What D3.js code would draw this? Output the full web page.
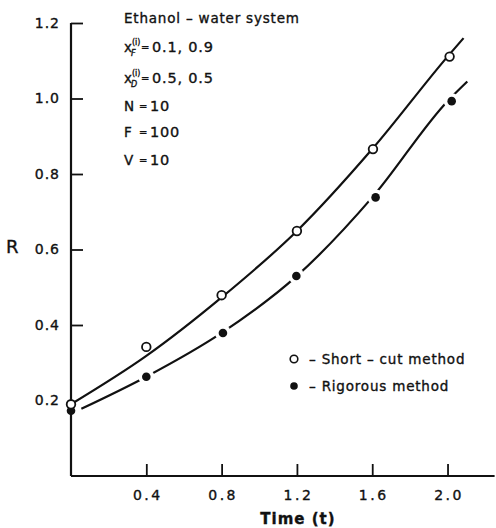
<!DOCTYPE html>
<html>
<head>
<meta charset="utf-8">
<script src="https://cdn.jsdelivr.net/npm/d3@7"></script>
<style>
  body { margin: 0; background: #fff; }
  text { font-family: "DejaVu Sans", Arial, sans-serif; fill: #111; stroke: #111; stroke-width: 0.35; }
</style>
</head>
<body>
<script>
  // points
  var shortCutT = [0, 0.4, 0.8, 1.2, 1.604, 2.011];
  var shortCutR = [0.19, 0.342, 0.479, 0.649, 0.866, 1.111];
  var rigorousT = [0, 0.4, 0.807, 1.197, 1.618, 2.022];
  var rigorousR = [0.173, 0.263, 0.379, 0.530, 0.738, 0.993];

  // fitted curves drawn through the points
  var shortCutCurveT = [0, 0.4, 0.8, 1.2, 1.6, 2.0, 2.085];
  var shortCutCurveR = [0.19, 0.318, 0.473, 0.649, 0.866, 1.111, 1.16];
  var rigorousCurveT = [0.055, 0.4, 0.8, 1.2, 1.6, 2.0, 2.105];
  var rigorousCurveR = [0.178, 0.263, 0.379, 0.530, 0.738, 0.993, 1.045];

  var xTicks = [0.4, 0.8, 1.2, 1.6, 2.0];
  var yTicks = [0.2, 0.4, 0.6, 0.8, 1.0, 1.2];

  var width = 496, height = 528;

  var svg = d3.select('body').append('svg')
    .attr('width', width)
    .attr('height', height);

  var x = d3.scaleLinear().domain([0, 2.25]).range([71, 494.6]);
  var y = d3.scaleLinear().domain([0, 1.2]).range([476, 23]);

  var line = d3.line()
    .x(function(d) { return x(d[0]); })
    .y(function(d) { return y(d[1]); })
    .curve(d3.curveMonotoneX);

  var curves = [
    d3.zip(shortCutCurveT, shortCutCurveR),
    d3.zip(rigorousCurveT, rigorousCurveR)
  ];

  svg.selectAll('path.curve')
    .data(curves)
    .enter()
    .append('path')
      .attr('class', 'curve')
      .attr('d', line)
      .attr('fill', 'none')
      .attr('stroke', '#111')
      .attr('stroke-width', 2.2);

  var rigorous = d3.zip(rigorousT, rigorousR);
  var shortCut = d3.zip(shortCutT, shortCutR);

  // white halos break the curve around the solid dots
  svg.selectAll('circle.halo')
    .data(rigorous)
    .enter()
    .append('circle')
      .attr('class', 'halo')
      .attr('cx', function(d) { return x(d[0]); })
      .attr('cy', function(d) { return y(d[1]); })
      .attr('r', 8)
      .attr('fill', '#fff');

  // axes
  var xAxis = d3.axisBottom(x).tickValues(xTicks).tickSize(-12).tickPadding(14)
    .tickFormat(d3.format('.1f'));
  var yAxis = d3.axisLeft(y).tickValues(yTicks).tickSize(-12).tickPadding(11)
    .tickFormat(d3.format('.1f'));

  var gx = svg.append('g').attr('transform', 'translate(0,' + y(0) + ')').call(xAxis);
  var gy = svg.append('g').attr('transform', 'translate(' + x(0) + ',0)').call(yAxis);

  [gx, gy].forEach(function(g) {
    g.select('.domain').attr('stroke', '#111').attr('stroke-width', 2.2);
    g.selectAll('.tick line').attr('stroke', '#111').attr('stroke-width', 1.8);
    g.selectAll('.tick text')
      .attr('font-size', 14)
      .attr('font-family', '"DejaVu Sans", Arial, sans-serif')
      .attr('fill', '#111');
  });
  gx.select('.domain').attr('d', 'M' + x(0) + ',0H' + x(2.25));
  gx.selectAll('.tick text').attr('letter-spacing', 2.5).attr('dx', 1);
  gy.select('.domain').attr('d', 'M0,' + y(0) + 'V' + y(1.2));
  gy.selectAll('.tick text').attr('letter-spacing', 1);
  gy.selectAll('.tick').filter(function(d) { return d === 0.2; }).select('line').remove();

  // markers
  svg.selectAll('circle.rig')
    .data(rigorous)
    .enter()
    .append('circle')
      .attr('class', 'rig')
      .attr('cx', function(d) { return x(d[0]); })
      .attr('cy', function(d) { return y(d[1]); })
      .attr('r', 4.3)
      .attr('fill', '#111');

  svg.selectAll('circle.sc')
    .data(shortCut)
    .enter()
    .append('circle')
      .attr('class', 'sc')
      .attr('cx', function(d) { return x(d[0]); })
      .attr('cy', function(d) { return y(d[1]); })
      .attr('r', 4.3)
      .attr('fill', '#fff')
      .attr('stroke', '#111')
      .attr('stroke-width', 1.8);

  // axis titles
  svg.append('text')
    .attr('x', 298).attr('y', 524)
    .attr('text-anchor', 'middle')
    .attr('font-size', 15).attr('font-weight', 'bold').attr('letter-spacing', 1)
    .text('Time (t)');

  svg.append('text')
    .attr('x', 6).attr('y', 253)
    .attr('font-size', 18).attr('stroke-width', 0.7)
    .text('R');

  // conditions block
  var info = svg.append('g').attr('font-size', 13.5).attr('letter-spacing', 0.8);
  info.append('text').attr('x', 124).attr('y', 23).text('Ethanol – water system');

  ['F', 'D'].forEach(function(sub, i) {
    var t = info.append('text').attr('x', 124).attr('y', i === 0 ? 52 : 83).attr('letter-spacing', 0);
    t.append('tspan').text('x');
    t.append('tspan').attr('font-size', 8).attr('dy', -7).text('(i)');
    t.append('tspan').attr('font-size', 8).attr('x', 131).attr('dy', 11)
      .attr('font-style', 'italic').text(sub);
  });

  var rows = [
    { name: null, y: 52, value: '0.1, 0.9', vx: 152, ex: 141 },
    { name: null, y: 83, value: '0.5, 0.5', vx: 152, ex: 141 },
    { name: 'N', y: 111, value: '10', vx: 150, ex: 139 },
    { name: 'F', y: 137, value: '100', vx: 150, ex: 139 },
    { name: 'V', y: 165, value: '10', vx: 150, ex: 139 }
  ];
  rows.forEach(function(r) {
    if (r.name) info.append('text').attr('x', 124).attr('y', r.y).attr('letter-spacing', 0).text(r.name);
    info.append('text').attr('x', r.ex).attr('y', r.y).attr('font-size', 10)
      .attr('letter-spacing', 0).attr('dy', -1).text('=');
    info.append('text').attr('x', r.vx).attr('y', r.y).attr('font-size', 14.5).text(r.value);
  });

  // legend
  var legend = svg.append('g').attr('font-size', 13.5).attr('letter-spacing', 0.8);
  legend.append('circle').attr('cx', 294).attr('cy', 359).attr('r', 3.8)
    .attr('fill', '#fff').attr('stroke', '#111').attr('stroke-width', 1.6);
  legend.append('text').attr('x', 309).attr('y', 364).text('– Short – cut method');
  legend.append('circle').attr('cx', 294).attr('cy', 386).attr('r', 3.8).attr('fill', '#111');
  legend.append('text').attr('x', 309).attr('y', 391).text('– Rigorous method');
</script>
</body>
</html>
